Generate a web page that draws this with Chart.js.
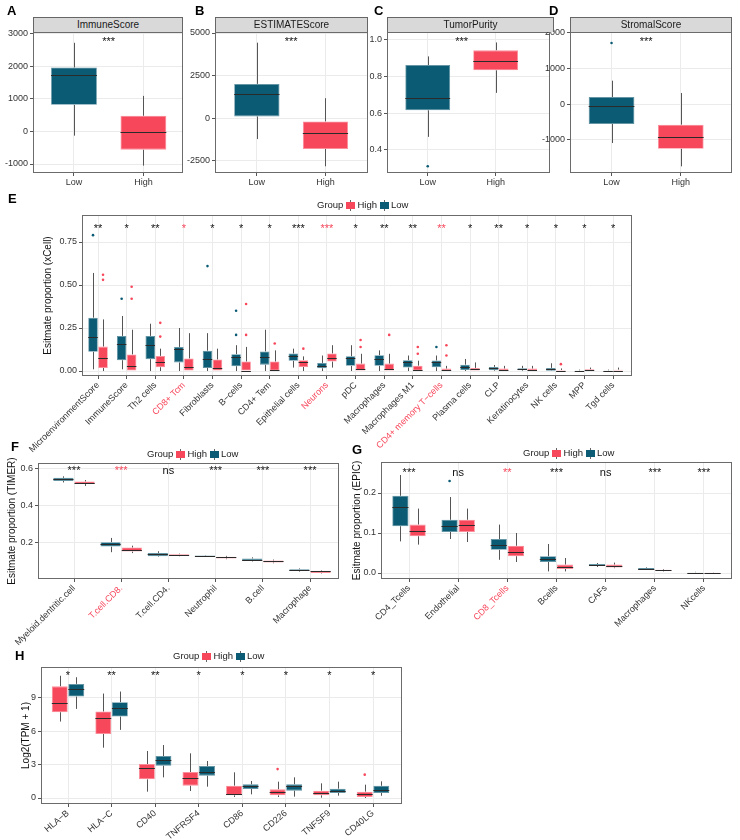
<!DOCTYPE html>
<html>
<head>
<meta charset="utf-8">
<script src="https://cdn.jsdelivr.net/npm/chart.js@4.4.0/dist/chart.umd.min.js"></script>
<style>
body { margin: 0; background: #fff; font-family: 'Liberation Sans', Arial, sans-serif; }
#fig { position: relative; width: 740px; height: 840px; overflow: hidden; background: #fff; }
canvas { position: absolute; }
.tag { position: absolute; font-weight: bold; font-size: 13px; line-height: 13px; color: #000; }
.strip { position: absolute; top: 17px; height: 15px; box-sizing: border-box; background: #d9d9d9; border: 1px solid #666; border-bottom: none; font-size: 10px; line-height: 14px; text-align: center; color: #1a1a1a; }
.leg { position: absolute; font-size: 9.5px; line-height: 12px; color: #222; white-space: nowrap; }
.key { display: inline-block; position: relative; width: 9px; height: 11px; vertical-align: middle; margin: 0 2px 0 3px; }
.key:before { content: ''; position: absolute; left: 4px; top: 0; width: 1px; height: 11px; background: #666; }
.key i { position: absolute; left: 0; top: 2px; width: 9px; height: 7px; }
</style>
</head>
<body>
<div id="fig">
  <canvas id="cA" width="185" height="190" style="left:0;top:0"></canvas>
  <canvas id="cB" width="185" height="190" style="left:185px;top:0"></canvas>
  <canvas id="cC" width="194" height="190" style="left:360px;top:0"></canvas>
  <canvas id="cD" width="200" height="190" style="left:540px;top:0"></canvas>
  <canvas id="cE" width="740" height="265" style="left:0;top:195px"></canvas>
  <canvas id="cF" width="370" height="210" style="left:0;top:445px"></canvas>
  <canvas id="cG" width="395" height="210" style="left:345px;top:445px"></canvas>
  <canvas id="cH" width="410" height="190" style="left:0;top:650px"></canvas>

  <div class="tag" style="left:7px;top:4px">A</div>
  <div class="tag" style="left:195px;top:4px">B</div>
  <div class="tag" style="left:374px;top:4px">C</div>
  <div class="tag" style="left:549px;top:4px">D</div>
  <div class="tag" style="left:8px;top:192px">E</div>
  <div class="tag" style="left:11px;top:440px">F</div>
  <div class="tag" style="left:352px;top:443px">G</div>
  <div class="tag" style="left:15px;top:649px">H</div>

  <div class="strip" style="left:33px;width:150px">ImmuneScore</div>
  <div class="strip" style="left:215px;width:153px">ESTIMATEScore</div>
  <div class="strip" style="left:387px;width:167px">TumorPurity</div>
  <div class="strip" style="left:570px;width:162px">StromalScore</div>

  <div class="leg" style="left:317px;top:199px">Group<span class="key"><i style="background:#f7475b"></i></span>High<span class="key"><i style="background:#0a5b73"></i></span>Low</div>
  <div class="leg" style="left:147px;top:448px">Group<span class="key"><i style="background:#f7475b"></i></span>High<span class="key"><i style="background:#0a5b73"></i></span>Low</div>
  <div class="leg" style="left:523px;top:447px">Group<span class="key"><i style="background:#f7475b"></i></span>High<span class="key"><i style="background:#0a5b73"></i></span>Low</div>
  <div class="leg" style="left:173px;top:650px">Group<span class="key"><i style="background:#f7475b"></i></span>High<span class="key"><i style="background:#0a5b73"></i></span>Low</div>
</div>

<script>
// box stats are [min, q1, median, q3, max]; outliers are [category index, value]
const topGroups = ['Low', 'High'];
const immuneLow = [-130, 815, 1745, 1960, 2720];
const immuneHigh = [-1050, -560, -30, 480, 1090];
const immuneTicks = [-1000, 0, 1000, 2000, 3000];
const estimateLow = [-1230, 100, 1445, 2010, 4430];
const estimateHigh = [-2830, -1815, -880, -195, 1170];
const estimateTicks = [-2500, 0, 2500, 5000];
const purityLow = [0.47, 0.615, 0.68, 0.862, 0.909];
const purityHigh = [0.71, 0.833, 0.885, 0.942, 0.985];
const purityLowOut = [[0, 0.31]];
const purityTicks = [0.4, 0.6, 0.8, 1.0];
const stromalLow = [-1094, -559, -62, 200, 659];
const stromalHigh = [-1750, -1253, -925, -578, 312];
const stromalLowOut = [[0, 1718]];
const stromalTicks = [-1000, 0, 1000, 2000];

const eCats = ['MicroenvironmentScore', 'ImmuneScore', 'Th2 cells', 'CD8+ Tcm', 'Fibroblasts', 'B\u2212cells',
  'CD4+ Tem', 'Epithelial cells', 'Neurons', 'pDC', 'Macrophages', 'Macrophages M1', 'CD4+ memory T\u2212cells',
  'Plasma cells', 'CLP', 'Keratinocytes', 'NK cells', 'MPP', 'Tgd cells'];
const eSig = ['**', '*', '**', '*', '*', '*', '*', '***', '***', '*', '**', '**', '**', '*', '**', '*', '*', '*', '*'];
const eRed = [3, 8, 12];
const eTicks = [0, 0.25, 0.5, 0.75];
const eLow = [
  [0.01, 0.112, 0.197, 0.31, 0.57], [0.01, 0.063, 0.157, 0.204, 0.32], [0.0, 0.069, 0.15, 0.204, 0.275],
  [0.0, 0.05, 0.13, 0.14, 0.25], [0.0, 0.018, 0.067, 0.118, 0.22], [0.0, 0.028, 0.079, 0.098, 0.15],
  [0.0, 0.037, 0.083, 0.114, 0.24], [0.02, 0.059, 0.086, 0.102, 0.13], [0.0, 0.016, 0.028, 0.047, 0.09],
  [0.0, 0.03, 0.073, 0.086, 0.15], [0.0, 0.03, 0.067, 0.092, 0.12], [0.0, 0.02, 0.051, 0.063, 0.09],
  [0.0, 0.022, 0.051, 0.061, 0.09], [0.0, 0.006, 0.024, 0.037, 0.07], [0.0, 0.004, 0.016, 0.024, 0.035],
  [0.0, 0.004, 0.01, 0.016, 0.03], [0.0, 0.002, 0.01, 0.018, 0.045], [0.0, 0.0, 0.001, 0.004, 0.008],
  [0.0, 0.0, 0.001, 0.004, 0.008]];
const eHigh = [
  [0.0, 0.018, 0.073, 0.142, 0.30], [0.0, 0.0, 0.03, 0.096, 0.24], [0.0, 0.022, 0.051, 0.088, 0.13],
  [0.0, 0.0, 0.026, 0.073, 0.22], [0.0, 0.0, 0.018, 0.067, 0.13], [0.0, 0.0, 0.002, 0.055, 0.14],
  [0.0, 0.0, 0.008, 0.055, 0.12], [0.0, 0.024, 0.05, 0.063, 0.085], [0.02, 0.055, 0.075, 0.102, 0.15],
  [0.0, 0.0, 0.01, 0.043, 0.1], [0.0, 0.0, 0.01, 0.043, 0.1], [0.0, 0.0, 0.006, 0.031, 0.06],
  [0.0, 0.0, 0.006, 0.014, 0.03], [0.0, 0.0, 0.01, 0.018, 0.05], [0.0, 0.002, 0.008, 0.014, 0.03],
  [0.0, 0.002, 0.008, 0.014, 0.03], [0.0, 0.0, 0.002, 0.006, 0.015], [0.0, 0.0, 0.004, 0.01, 0.02],
  [0.0, 0.0, 0.002, 0.008, 0.02]];
const eLowOut = [[0, 0.79], [1, 0.42], [4, 0.61], [5, 0.21], [5, 0.35], [12, 0.14]];
const eHighOut = [[0, 0.56], [0, 0.53], [1, 0.49], [1, 0.42], [2, 0.28], [2, 0.2], [5, 0.21], [5, 0.39], [6, 0.16],
  [7, 0.13], [9, 0.18], [9, 0.14], [10, 0.21], [11, 0.14], [11, 0.1], [12, 0.15], [12, 0.09], [16, 0.04]];

const fCats = ['Myeloid.dentritic.cell', 'T.cell.CD8.', 'T.cell.CD4.', 'Neutrophil', 'B.cell', 'Macrophage'];
const fSig = ['***', '***', 'ns', '***', '***', '***'];
const fRed = [1];
const fTicks = [0.2, 0.4, 0.6];
const fLow = [[0.527, 0.535, 0.543, 0.552, 0.56], [0.15, 0.18, 0.193, 0.204, 0.227], [0.125, 0.128, 0.139, 0.146, 0.155],
  [0.126, 0.128, 0.13, 0.132, 0.134], [0.1, 0.105, 0.11, 0.116, 0.122], [0.045, 0.049, 0.054, 0.058, 0.062]];
const fHigh = [[0.508, 0.518, 0.525, 0.532, 0.54], [0.145, 0.153, 0.164, 0.175, 0.185], [0.128, 0.13, 0.136, 0.139, 0.142],
  [0.112, 0.116, 0.122, 0.125, 0.13], [0.09, 0.094, 0.1, 0.105, 0.11], [0.035, 0.038, 0.046, 0.049, 0.052]];

const gCats = ['CD4_Tcells', 'Endothelial', 'CD8_Tcells', 'Bcells', 'CAFs', 'Macrophages', 'NKcells'];
const gSig = ['***', 'ns', '**', '***', 'ns', '***', '***'];
const gRed = [2];
const gTicks = [0, 0.1, 0.2];
const gLow = [[0.079, 0.117, 0.164, 0.193, 0.245], [0.085, 0.1025, 0.118, 0.133, 0.19], [0.033, 0.058, 0.07, 0.085, 0.121],
  [0.004, 0.0275, 0.036, 0.042, 0.0725], [0.015, 0.018, 0.021, 0.0225, 0.025], [0.008, 0.009, 0.011, 0.0125, 0.014],
  [0.0, 0.0, 0.001, 0.002, 0.003]];
const gHigh = [[0.071, 0.092, 0.104, 0.121, 0.161], [0.0775, 0.1025, 0.121, 0.133, 0.161], [0.0275, 0.042, 0.0525, 0.068, 0.1],
  [0.004, 0.01, 0.016, 0.021, 0.0375], [0.012, 0.014, 0.0175, 0.021, 0.026], [0.004, 0.005, 0.0067, 0.0083, 0.01],
  [0.0, 0.0, 0.0003, 0.0005, 0.001]];
const gLowOut = [[1, 0.23]];

const hCats = ['HLA\u2212B', 'HLA\u2212C', 'CD40', 'TNFRSF4', 'CD86', 'CD226', 'TNFSF9', 'CD40LG'];
const hSig = ['*', '**', '**', '*', '*', '*', '*', '*'];
const hTicks = [0, 3, 6, 9];
const hHigh = [[6.88, 7.72, 8.53, 10.05, 11.0], [4.53, 5.77, 7.18, 7.78, 9.4], [0.57, 1.68, 2.73, 3.06, 4.23],
  [0.63, 1.11, 1.77, 2.34, 4.02], [0.09, 0.24, 0.36, 1.11, 2.31], [0.09, 0.24, 0.57, 0.78, 1.47],
  [0.03, 0.24, 0.45, 0.66, 1.32], [0.0, 0.09, 0.33, 0.57, 1.2]];
const hLow = [[8.02, 9.13, 9.8, 10.27, 10.87], [6.13, 7.33, 8.08, 8.62, 9.58], [1.86, 2.91, 3.42, 3.78, 4.77],
  [1.02, 2.01, 2.37, 2.88, 3.33], [0.33, 0.81, 1.11, 1.23, 1.53], [0.12, 0.66, 1.05, 1.23, 1.86],
  [0.21, 0.45, 0.66, 0.84, 1.47], [0.2, 0.45, 0.75, 1.1, 1.5]];
const hHighOut = [[5, 2.6], [7, 2.1]];

const RED = '#f7475b', TEAL = '#0a5b73';
const RED_EDGE = '#fb8d99', TEAL_EDGE = '#5d8fa0';
Chart.defaults.font.family = "'Liberation Sans', Arial, sans-serif";
Chart.defaults.color = '#333';

const info = {};

const extras = {
  id: 'extras',
  beforeDatasetsDraw(chart) {
    const y = chart.scales.y, ctx = chart.ctx;
    ctx.save();
    ctx.strokeStyle = '#555';
    ctx.lineWidth = 1;
    chart.data.datasets.forEach((d, k) => {
      if (!d.stats) return;
      chart.getDatasetMeta(k).data.forEach((bar, i) => {
        const s = d.stats[i], x = Math.round(bar.x) + 0.5;
        ctx.beginPath();
        ctx.moveTo(x, y.getPixelForValue(s[4]));
        ctx.lineTo(x, y.getPixelForValue(s[3]));
        ctx.moveTo(x, y.getPixelForValue(s[1]));
        ctx.lineTo(x, y.getPixelForValue(s[0]));
        ctx.stroke();
      });
    });
    ctx.restore();
  },
  afterDatasetsDraw(chart) {
    const y = chart.scales.y, ctx = chart.ctx;
    ctx.save();
    ctx.strokeStyle = '#2a2a2a';
    ctx.lineWidth = 1;
    chart.data.datasets.forEach((d, k) => {
      if (!d.stats) return;
      chart.getDatasetMeta(k).data.forEach((bar, i) => {
        const py = Math.round(y.getPixelForValue(d.stats[i][2])) + 0.5;
        ctx.beginPath();
        ctx.moveTo(bar.x - bar.width / 2, py);
        ctx.lineTo(bar.x + bar.width / 2, py);
        ctx.stroke();
      });
    });
    ctx.restore();
  },
  afterDraw(chart) {
    const a = chart.chartArea, ctx = chart.ctx, p = info[chart.canvas.id];
    ctx.save();
    ctx.strokeStyle = '#6b6b6b';
    ctx.lineWidth = 1;
    ctx.strokeRect(Math.round(a.left) + 0.5, Math.round(a.top) + 0.5,
      Math.round(a.right - a.left) - 1, Math.round(a.bottom - a.top) - 1);
    ctx.font = '11px "Liberation Sans", Arial, sans-serif';
    ctx.textAlign = 'center';
    ctx.textBaseline = 'middle';
    p.sig.forEach((t, i) => {
      ctx.fillStyle = p.sigRed.includes(i) ? RED : '#111';
      ctx.fillText(t, chart.scales.x.getPixelForValue(p.sigAt[i]), a.top + p.sigOff);
    });
    ctx.restore();
  }
};
Chart.register(extras);

function boxChart(id, o) {
  info[id] = o;
  const datasets = [];
  o.groups.forEach((g, k) => {
    const xs = g.at || o.cats.map((c, i) => i);
    datasets.push({
      type: 'bar', order: 1, stats: g.stats,
      data: g.stats.map((s, i) => ({ x: xs[i], y: [s[1], s[3]] })),
      backgroundColor: g.color, borderColor: g.edge, borderWidth: 0.8, borderSkipped: false,
      grouped: o.dodge, categoryPercentage: o.catPct, barPercentage: o.barPct
    });
    if (g.out) {
      const shift = o.dodge ? (k - (o.groups.length - 1) / 2) * o.catPct / o.groups.length : 0;
      datasets.push({
        type: 'scatter', order: 0,
        data: g.out.map(p => ({ x: xs[p[0]] + shift, y: p[1] })),
        pointRadius: 1.3, pointBorderWidth: 0, pointBackgroundColor: g.color
      });
    }
  });

  new Chart(document.getElementById(id), {
    type: 'bar',
    data: { datasets },
    options: {
      responsive: false, animation: false, devicePixelRatio: 1,
      layout: { padding: { left: 0, top: o.pad[0], right: o.pad[1], bottom: 0 } },
      plugins: { legend: { display: false }, tooltip: { enabled: false } },
      scales: {
        x: {
          type: 'linear', offset: false, min: o.x[0], max: o.x[1],
          grid: { color: '#ebebeb', offset: false, tickLength: 3, tickColor: '#555' },
          border: { display: false },
          ticks: {
            autoSkip: false, maxRotation: o.rot, minRotation: o.rot,
            padding: 1, font: { size: 9 },
            color: c => (o.red || []).includes(Math.round(c.tick.value)) ? RED : '#333',
            callback: v => o.cats[Math.round(v)] ?? ''
          },
          afterBuildTicks: s => { s.ticks = o.cats.map((c, i) => ({ value: i })); },
          afterFit: s => { s.height = o.xh; s.paddingLeft = 0; s.paddingRight = 0; }
        },
        y: {
          type: 'linear', min: o.y[0], max: o.y[1],
          grid: { color: '#ebebeb', tickLength: 3, tickColor: '#555' },
          border: { display: false },
          ticks: { padding: 2, font: { size: 9 }, color: '#333', callback: v => v.toFixed(o.dec) },
          afterBuildTicks: s => { s.ticks = o.yticks.map(v => ({ value: v })); },
          title: o.ytitle ? { display: true, text: o.ytitle, color: '#111', font: { size: 10 }, padding: { top: o.ytp, bottom: 0 } } : { display: false },
          afterFit: s => { s.width = o.yw; s.paddingTop = 0; s.paddingBottom = 0; }
        }
      }
    }
  });
}

function topPanel(id, low, high, lowOut, x, y, yticks, dec, yw, padRight) {
  boxChart(id, {
    cats: topGroups, dodge: false, catPct: 1, barPct: 0.66,
    groups: [
      { color: TEAL, edge: TEAL_EDGE, stats: [low], at: [0], out: lowOut },
      { color: RED, edge: RED_EDGE, stats: [high], at: [1] }
    ],
    x, y, yticks, dec, rot: 0, pad: [32, padRight], yw, xh: 17,
    sig: ['***'], sigAt: [0.5], sigRed: [], sigOff: 10
  });
}

topPanel('cA', immuneLow, immuneHigh, null, [-0.59, 1.57], [-1276, 3051], immuneTicks, 0, 33, 2);
topPanel('cB', estimateLow, estimateHigh, null, [-0.61, 1.62], [-3224, 5059], estimateTicks, 0, 30, 2);
topPanel('cC', purityLow, purityHigh, purityLowOut, [-0.6, 1.8], [0.273, 1.042], purityTicks, 1, 27, 0);
topPanel('cD', stromalLow, stromalHigh, stromalLowOut, [-0.6, 1.74], [-1937, 2028], stromalTicks, 0, 30, 8);

boxChart('cE', {
  cats: eCats, red: eRed, dodge: true, catPct: 0.7, barPct: 0.95,
  groups: [
    { color: TEAL, edge: TEAL_EDGE, stats: eLow, out: eLowOut },
    { color: RED, edge: RED_EDGE, stats: eHigh, out: eHighOut }
  ],
  x: [-0.56, 18.66], y: [-0.029, 0.907], yticks: eTicks, dec: 2, rot: 45,
  pad: [20, 108], yw: 82, xh: 84, ytitle: 'Esitmate proportion (xCell)', ytp: 42,
  sig: eSig, sigAt: eSig.map((s, i) => i), sigRed: eRed, sigOff: 14
});

boxChart('cF', {
  cats: fCats, red: fRed, dodge: true, catPct: 0.9, barPct: 0.95,
  groups: [
    { color: TEAL, edge: TEAL_EDGE, stats: fLow },
    { color: RED, edge: RED_EDGE, stats: fHigh }
  ],
  x: [-0.763, 5.614], y: [0.005, 0.632], yticks: fTicks, dec: 1, rot: 45,
  pad: [18, 31], yw: 38, xh: 76, ytitle: 'Esitmate proportion (TIMER)', ytp: 6.5,
  sig: fSig, sigAt: fSig.map((s, i) => i), sigRed: fRed, sigOff: 8
});

boxChart('cG', {
  cats: gCats, red: gRed, dodge: true, catPct: 0.7, barPct: 0.94,
  groups: [
    { color: TEAL, edge: TEAL_EDGE, stats: gLow, out: gLowOut },
    { color: RED, edge: RED_EDGE, stats: gHigh }
  ],
  x: [-0.57, 6.57], y: [-0.015, 0.2775], yticks: gTicks, dec: 1, rot: 45,
  pad: [17, 8], yw: 36, xh: 76, ytitle: 'Esitmate proportion (EPIC)', ytp: 6.5,
  sig: gSig, sigAt: gSig.map((s, i) => i), sigRed: gRed, sigOff: 11
});

boxChart('cH', {
  cats: hCats, dodge: true, catPct: 0.76, barPct: 0.96,
  groups: [
    { color: RED, edge: RED_EDGE, stats: hHigh, out: hHighOut },
    { color: TEAL, edge: TEAL_EDGE, stats: hLow }
  ],
  x: [-0.62, 7.665], y: [-0.54, 11.79], yticks: hTicks, dec: 0, rot: 40,
  pad: [17, 8], yw: 41, xh: 36, ytitle: 'Log2(TPM + 1)', ytp: 20,
  sig: hSig, sigAt: hSig.map((s, i) => i), sigRed: [], sigOff: 9
});
</script>
</body>
</html>
